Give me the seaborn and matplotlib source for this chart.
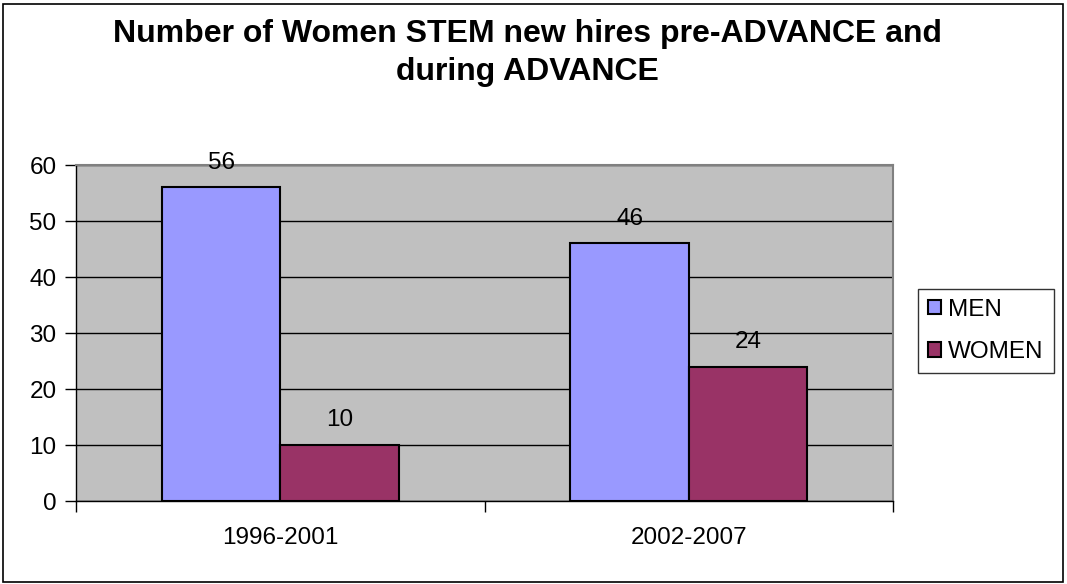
import matplotlib
matplotlib.use("Agg")
import matplotlib.pyplot as plt
import seaborn as sns
import pandas as pd
from matplotlib.patches import Rectangle

periods = ["1996-2001", "2002-2007"]
men = [56, 46]
women = [10, 24]
series = ["MEN", "WOMEN"]
colors = ["#9999FF", "#993366"]
title = "Number of Women STEM new hires pre-ADVANCE and\nduring ADVANCE"

df = pd.DataFrame({
    "period": periods * 2,
    "value": men + women,
    "series": [series[0]] * len(periods) + [series[1]] * len(periods),
})

sns.set_style("white")
plt.rcParams["font.family"] = ["Liberation Sans", "DejaVu Sans"]
plt.rcParams["text.color"] = "black"
plt.rcParams["xtick.color"] = "black"
plt.rcParams["ytick.color"] = "black"
plt.rcParams["xtick.labelcolor"] = "black"
plt.rcParams["ytick.labelcolor"] = "black"

W, H = 1067, 584
fig = plt.figure(figsize=(W / 100, H / 100), dpi=100)
left, right, top, bottom = 76, 893, 165, 501
ax = fig.add_axes([left / W, 1 - bottom / H, (right - left) / W, (bottom - top) / H])
ax.set_facecolor("#C0C0C0")

sns.barplot(data=df, x="period", y="value", hue="series", palette=colors,
            saturation=1, width=0.58, edgecolor="black", linewidth=1.5, ax=ax,
            zorder=3, legend=False)

FS = 17.5
ax.set_xlim(-0.5, 1.5)
ax.set_ylim(0, 60)
ax.set_yticks(range(0, 61, 10))
ax.yaxis.grid(True, color="black", linewidth=1, zorder=1)
ax.set_axisbelow(True)
ax.set_xlabel("")
ax.set_ylabel("")
ax.set_xticks([0, 1])
ax.set_xticklabels(periods)
ax.tick_params(axis="x", length=0, labelsize=FS, pad=19)
ax.tick_params(axis="y", length=8, width=1, labelsize=FS, pad=6, direction="out", left=True)
ax.set_xticks([-0.5, 0.5, 1.5], minor=True)
ax.tick_params(axis="x", which="minor", length=8, width=1, direction="out", bottom=True)

for s in ["top", "right"]:
    ax.spines[s].set_color("#808080")
    ax.spines[s].set_linewidth(1.5)
for s in ["left", "bottom"]:
    ax.spines[s].set_color("black")
    ax.spines[s].set_linewidth(1)

for cont in ax.containers:
    ax.bar_label(cont, padding=10, fontsize=FS, color="black")

handles = [Rectangle((0, 0), 1, 1, facecolor=c, edgecolor="black", linewidth=1.5) for c in colors]
leg = fig.legend(handles, series, loc="upper left", bbox_to_anchor=(918 / W, 1 - 289 / H),
                 frameon=True, fancybox=False, fontsize=FS, handlelength=0.55,
                 handleheight=0.55, handletextpad=0.3, labelspacing=0.85,
                 borderpad=0.4, borderaxespad=0)
leg.get_frame().set_edgecolor("black")
leg.get_frame().set_linewidth(1)

fig.text(527 / W, 1 - 53 / H, title, ha="center", va="center", fontsize=23,
         fontweight="bold", linespacing=1.38, color="black")

fig.patches.append(Rectangle((3 / W, 2 / H), (W - 7) / W, (H - 6) / H,
                             transform=fig.transFigure, fill=False,
                             edgecolor="black", linewidth=1.2))

fig.savefig("out.png", dpi=100)
